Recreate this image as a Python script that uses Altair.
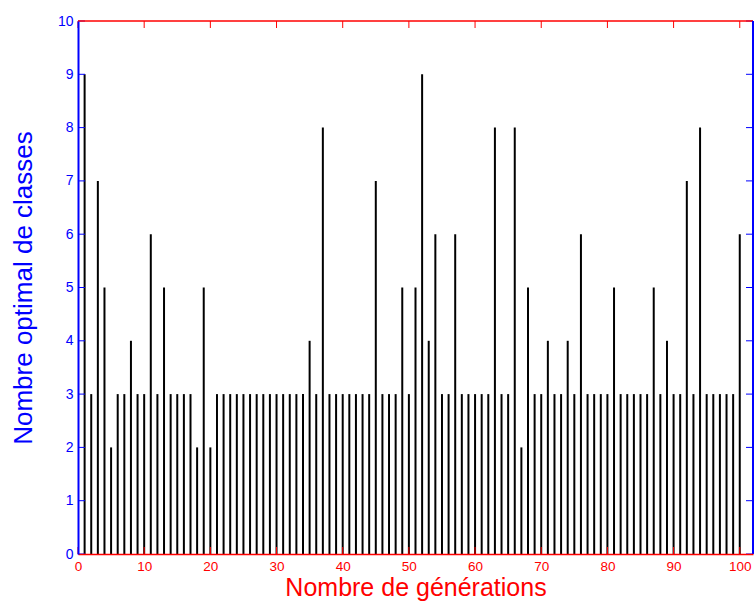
import altair as alt
import pandas as pd

generations = list(range(1, 101))
optimal_classes = [9, 3, 7, 5, 2, 3, 3, 4, 3, 3,
                   6, 3, 5, 3, 3, 3, 3, 2, 5, 2,
                   3, 3, 3, 3, 3, 3, 3, 3, 3, 3,
                   3, 3, 3, 3, 4, 3, 8, 3, 3, 3,
                   3, 3, 3, 3, 7, 3, 3, 3, 5, 3,
                   5, 9, 4, 6, 3, 3, 6, 3, 3, 3,
                   3, 3, 8, 3, 3, 8, 2, 5, 3, 3,
                   4, 3, 3, 4, 3, 6, 3, 3, 3, 3,
                   5, 3, 3, 3, 3, 3, 5, 3, 4, 3,
                   3, 7, 3, 8, 3, 3, 3, 3, 3, 6]
x_ticks = list(range(0, 101, 10))
y_ticks = list(range(0, 11))
x_domain = [0, 102]
y_domain = [0, 10]

W, H = 675, 533
TICK = 7
RED = "#ff0000"
BLUE = "#0000ff"
FONT = "Liberation Sans"

df = pd.DataFrame({"gen": generations, "val": optimal_classes})
xt = pd.DataFrame({"gen": x_ticks})
yt = pd.DataFrame({"val": y_ticks})
one = pd.DataFrame({"k": [0]})

xscale = alt.Scale(domain=x_domain, nice=False, zero=False)
yscale = alt.Scale(domain=y_domain, nice=False)

bars = alt.Chart(df).mark_rule(color="black", strokeWidth=2).encode(
    x=alt.X("gen:Q", scale=xscale,
            axis=alt.Axis(values=x_ticks, ticks=False, tickSize=0, grid=False,
                          domainColor=RED, domainWidth=1.5,
                          labelColor=RED, labelFont=FONT, labelFontSize=13.5,
                          labelBaseline="alphabetic", labelPadding=16.8,
                          labelFlush=False, format="d",
                          title="Nombre de générations", titleColor=RED,
                          titleFont=FONT, titleFontSize=25, titleFontWeight="normal",
                          titleBaseline="alphabetic", titleY=41.5, zindex=1)),
    y=alt.Y("val:Q", scale=yscale,
            axis=alt.Axis(values=y_ticks, ticks=False, tickSize=0, grid=False,
                          domainColor=BLUE, domainWidth=2,
                          labelColor=BLUE, labelFont=FONT, labelFontSize=14,
                          labelPadding=5, labelFlush=False, format="d",
                          title="Nombre optimal de classes", titleColor=BLUE,
                          titleFont=FONT, titleFontSize=26, titleFontWeight="normal",
                          titleBaseline="alphabetic", titleX=-47, zindex=1)),
    y2=alt.datum(0),
)

left_ticks = alt.Chart(yt).mark_rule(color=BLUE, strokeWidth=1).encode(
    y=alt.Y("val:Q", scale=yscale),
    x=alt.value(0), x2=alt.value(TICK))
right_ticks = alt.Chart(yt).mark_rule(color=BLUE, strokeWidth=1).encode(
    y=alt.Y("val:Q", scale=yscale),
    x=alt.value(W - TICK), x2=alt.value(W))
top_ticks = alt.Chart(xt).mark_rule(color=RED, strokeWidth=1).encode(
    x=alt.X("gen:Q", scale=xscale),
    y=alt.value(0), y2=alt.value(TICK))
bottom_ticks = alt.Chart(xt).mark_rule(color=RED, strokeWidth=1).encode(
    x=alt.X("gen:Q", scale=xscale),
    y=alt.value(H - TICK), y2=alt.value(H))

top_frame = alt.Chart(one).mark_rule(color=RED, strokeWidth=1.5).encode(
    x=alt.value(0), x2=alt.value(W), y=alt.value(0))
right_frame = alt.Chart(one).mark_rule(color=BLUE, strokeWidth=2).encode(
    x=alt.value(W), y=alt.value(0), y2=alt.value(H))

chart = alt.layer(
    bars, left_ticks, right_ticks, top_ticks, bottom_ticks, top_frame, right_frame
).properties(
    width=W, height=H,
    autosize=alt.AutoSizeParams(type="none"),
    padding={"left": 78, "top": 21, "right": 1, "bottom": 47},
).configure_view(strokeWidth=0)

chart.save("out.html", embed_options={"renderer": "svg", "actions": False})
